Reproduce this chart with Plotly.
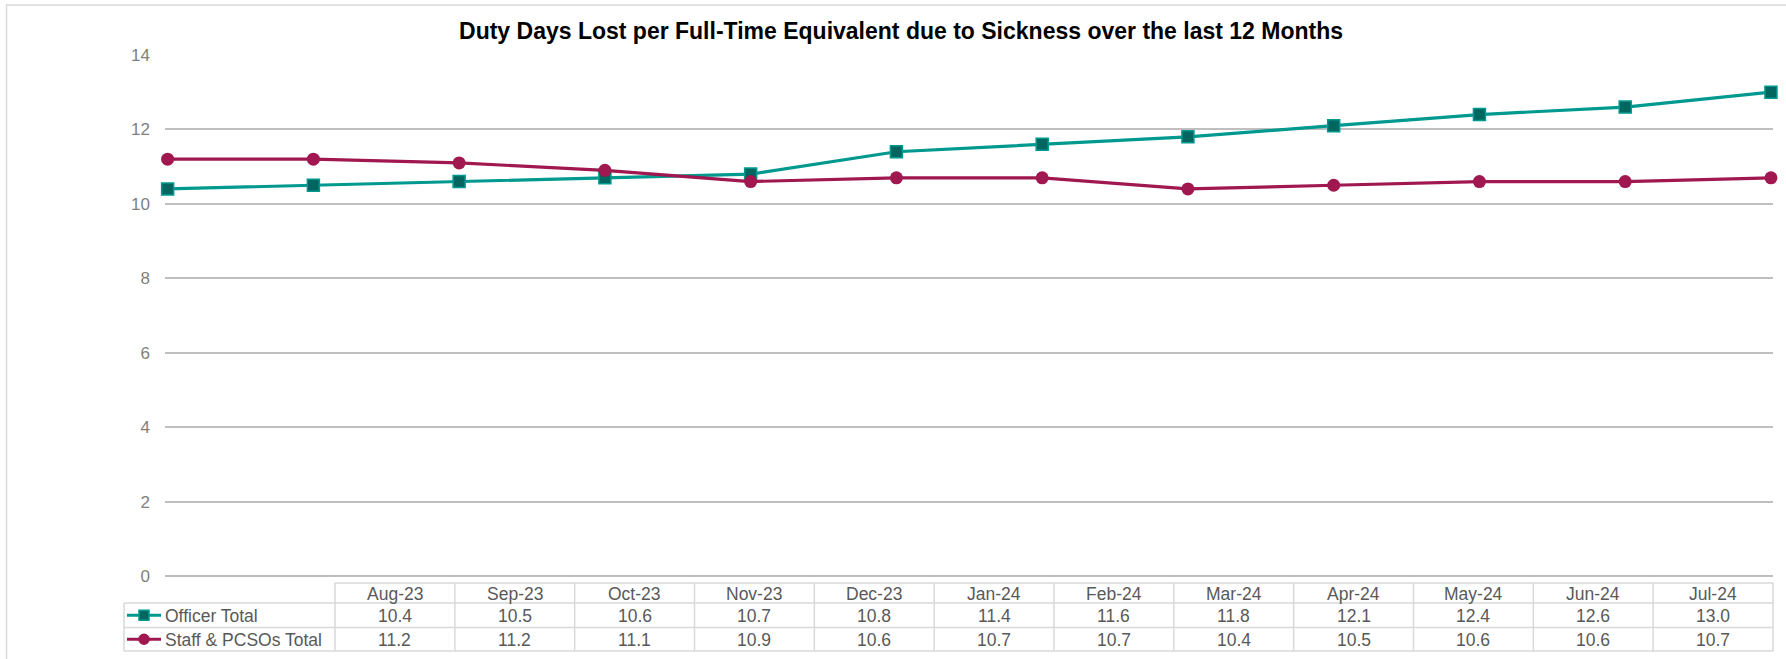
import plotly.graph_objects as go

months = ["Aug-23", "Sep-23", "Oct-23", "Nov-23", "Dec-23", "Jan-24",
          "Feb-24", "Mar-24", "Apr-24", "May-24", "Jun-24", "Jul-24"]
officer_total = [10.4, 10.5, 10.6, 10.7, 10.8, 11.4, 11.6, 11.8, 12.1, 12.4, 12.6, 13.0]
staff_total = [11.2, 11.2, 11.1, 10.9, 10.6, 10.7, 10.7, 10.4, 10.5, 10.6, 10.6, 10.7]
series_names = ["Officer Total", "Staff & PCSOs Total"]
y_ticks = [0, 2, 4, 6, 8, 10, 12, 14]

TEAL = "#00998F"
TEAL_DARK = "#00665F"
MAROON = "#A0184F"
GRID = "#BFBFBF"
TABLE_LINE = "#D9D9D9"
TEXT = "#595959"
FONT = "Liberation Sans, Arial, sans-serif"

W, H = 1786, 659
# plot area in pixels
L, R, T, B = 165, 1773, 55, 576


def px(x):
    return (x - L) / (R - L)


def py(y):
    return (B - y) / (B - T)


x_idx = list(range(len(months)))

fig = go.Figure()

fig.add_trace(go.Scatter(x=x_idx, y=officer_total, name=series_names[0],
                         mode="lines+markers",
                         line=dict(color=TEAL, width=3.2),
                         marker=dict(symbol="square", size=12, color=TEAL_DARK,
                                     line=dict(color=TEAL, width=1.5)),
                         cliponaxis=False, showlegend=False))

fig.add_trace(go.Scatter(x=x_idx, y=staff_total, name=series_names[1],
                         mode="lines+markers",
                         line=dict(color=MAROON, width=3.2),
                         marker=dict(symbol="circle", size=13, color=MAROON),
                         cliponaxis=False, showlegend=False))

shapes = []
annotations = []

# outer chart border
shapes.append(dict(type="rect", xref="paper", yref="paper",
                   x0=px(6.5), x1=px(1795), y0=py(5), y1=py(670),
                   line=dict(color=TABLE_LINE, width=1.5), layer="below"))

# data table below the chart
tbl_left, col_left, tbl_right = 124, 335, 1773
row_y = [583, 603, 627.5, 651]
col_w = (tbl_right - col_left) / len(months)


def hline(x0, x1, y):
    shapes.append(dict(type="line", xref="paper", yref="paper",
                       x0=px(x0), x1=px(x1), y0=py(y), y1=py(y),
                       line=dict(color=TABLE_LINE, width=1.5)))


def vline(x, y0, y1):
    shapes.append(dict(type="line", xref="paper", yref="paper",
                       x0=px(x), x1=px(x), y0=py(y0), y1=py(y1),
                       line=dict(color=TABLE_LINE, width=1.5)))


def label(x, y, text, anchor="center"):
    annotations.append(dict(x=px(x), y=py(y), xref="paper", yref="paper",
                            text=text, showarrow=False,
                            xanchor=anchor, yanchor="middle",
                            font=dict(size=17.5, color=TEXT, family=FONT)))


hline(col_left, tbl_right, row_y[0])
for yy in row_y[1:]:
    hline(tbl_left, tbl_right, yy)
vline(tbl_left, row_y[1], row_y[3])
for i in range(len(months) + 1):
    vline(col_left + i * col_w, row_y[0], row_y[3])

rows = [officer_total, staff_total]
for i, m in enumerate(months):
    xc = col_left + (i + 0.5) * col_w
    label(xc, (row_y[0] + row_y[1]) / 2 + 1, m)
    for r, vals in enumerate(rows):
        label(xc, (row_y[r + 1] + row_y[r + 2]) / 2 + 1, f"{vals[i]:.1f}")

# legend keys inside the table
key_styles = [(TEAL, TEAL_DARK, "rect"), (MAROON, MAROON, "circle")]
for r, name in enumerate(series_names):
    yc = (row_y[r + 1] + row_y[r + 2]) / 2
    lc, fc, kind = key_styles[r]
    shapes.append(dict(type="line", xref="paper", yref="paper",
                       x0=px(127), x1=px(161), y0=py(yc), y1=py(yc),
                       line=dict(color=lc, width=3)))
    shapes.append(dict(type=kind, xref="paper", yref="paper",
                       x0=px(139), x1=px(149), y0=py(yc - 5), y1=py(yc + 5),
                       fillcolor=fc, line=dict(color=lc, width=1.5)))
    label(163, yc + 1, name, anchor="left")

fig.update_layout(width=W, height=H,
                  margin=dict(l=L, r=W - R, t=T, b=H - B),
                  paper_bgcolor="white", plot_bgcolor="white",
                  font=dict(family=FONT),
                  title=dict(text="<b>Duty Days Lost per Full-Time Equivalent due to Sickness over the last 12 Months</b>",
                             x=0.5045, xanchor="center", y=1 - 31 / H, yanchor="middle",
                             font=dict(size=23, color="black", family=FONT)),
                  xaxis=dict(range=[-0.018, 11.014], showgrid=False, zeroline=False,
                             showticklabels=False, showline=False, ticks=""),
                  yaxis=dict(range=[0, 14], tickvals=y_ticks, showgrid=True,
                             gridcolor=GRID, gridwidth=1.5, zeroline=True,
                             zerolinecolor=GRID, zerolinewidth=1.5, showline=False,
                             ticks="", ticklabelstandoff=14,
                             tickfont=dict(size=17, color="#7F7F7F", family=FONT)),
                  shapes=shapes, annotations=annotations)

fig.write_html("out.html", config={"displayModeBar": False},
               post_script="document.body.style.margin='0';document.body.style.overflow='hidden';")
